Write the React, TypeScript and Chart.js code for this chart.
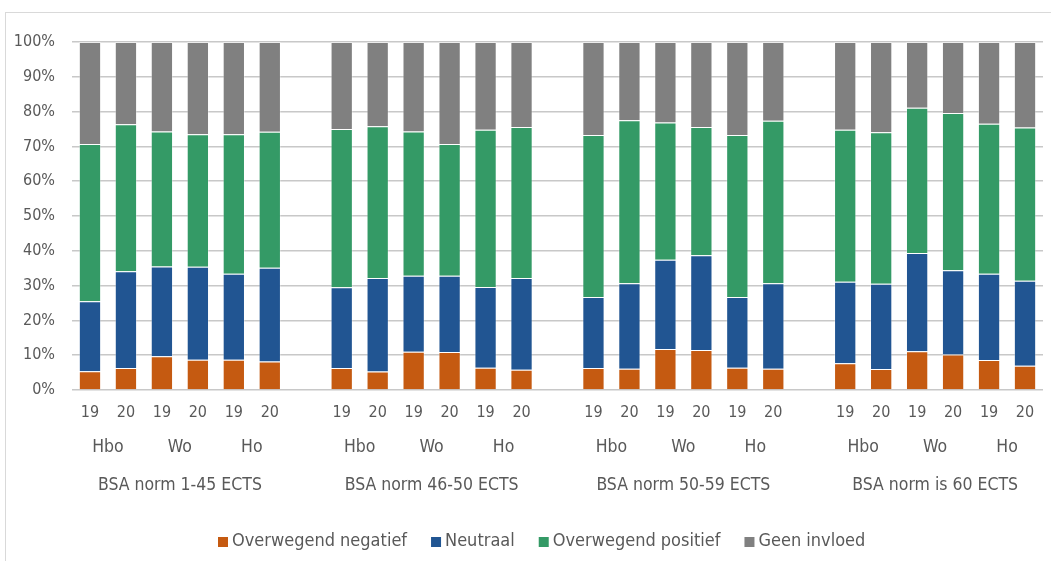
import React, { useEffect, useRef } from "react";
import { Chart, registerables } from "chart.js";

Chart.register(...registerables);

const groups = ["BSA norm 1-45 ECTS", "BSA norm 46-50 ECTS", "BSA norm 50-59 ECTS", "BSA norm is 60 ECTS"];
const sectors = ["Hbo", "Wo", "Ho"];
const years = ["19", "20"];

const negatief = [5.4, 6.3, 9.7, 8.7, 8.7, 8.2, 6.3, 5.3, 11.0, 10.9, 6.4, 5.8, 6.3, 6.1, 11.8, 11.5, 6.4, 6.1, 7.7, 6.0, 11.1, 10.2, 8.6, 7.0];
const neutraal = [20.1, 27.8, 25.8, 26.7, 24.7, 26.9, 23.2, 26.9, 21.8, 21.9, 23.2, 26.4, 20.4, 24.6, 25.6, 27.2, 20.3, 24.6, 23.4, 24.5, 28.3, 24.2, 24.8, 24.4];
const positief = [45.2, 42.3, 38.8, 38.1, 40.1, 39.1, 45.5, 43.6, 41.5, 37.9, 45.2, 43.4, 46.6, 46.8, 39.5, 36.9, 46.6, 46.7, 43.7, 43.6, 41.7, 45.2, 43.1, 44.0];
const geen = [29.3, 23.6, 25.7, 26.5, 26.5, 25.8, 25.0, 24.2, 25.7, 29.3, 25.2, 24.4, 26.7, 22.5, 23.1, 24.4, 26.7, 22.6, 25.2, 25.9, 18.9, 20.4, 23.5, 24.6];

const seriesNames = ["Overwegend negatief", "Neutraal", "Overwegend positief", "Geen invloed"];
const seriesColors = ["#C55A11", "#215592", "#349A66", "#808080"];

const FONT = "'DejaVu Sans Condensed', 'DejaVu Sans', sans-serif";
const TEXT = "#595959";

// Build category list with a blank slot between groups
const perGroup = sectors.length * years.length;
function withGaps(values: (number | null)[]): (number | null)[] {
  const out: (number | null)[] = [];
  groups.forEach((_, g) => {
    if (g > 0) out.push(null);
    for (let k = 0; k < perGroup; k++) out.push(values[g * perGroup + k]);
  });
  return out;
}
const labels: string[] = [];
groups.forEach((_, g) => {
  if (g > 0) labels.push("");
  sectors.forEach(() => years.forEach((y) => labels.push(y)));
});

const multiLevelPlugin = {
  id: "multiLevel",
  afterDraw(chart: any) {
    const x = chart.scales.x;
    const ctx = chart.ctx;
    ctx.save();
    ctx.fillStyle = TEXT;
    ctx.font = `17.5px ${FONT}`;
    ctx.textAlign = "center";
    ctx.textBaseline = "middle";
    const base = chart.chartArea.bottom;
    groups.forEach((gName, g) => {
      const start = g * (perGroup + 1);
      sectors.forEach((s, i) => {
        const a = x.getPixelForValue(start + i * 2);
        const b = x.getPixelForValue(start + i * 2 + 1);
        ctx.fillText(s, (a + b) / 2, base + 57);
      });
      const a = x.getPixelForValue(start);
      const b = x.getPixelForValue(start + perGroup - 1);
      ctx.fillText(gName, (a + b) / 2, base + 95);
    });

    // legend
    ctx.font = `18px ${FONT}`;
    ctx.textAlign = "left";
    const ly = base + 151;
    let lx = 218;
    chart.data.datasets.forEach((ds: any) => {
      ctx.fillStyle = ds.backgroundColor;
      ctx.fillRect(lx, ly - 4, 10, 10);
      ctx.fillStyle = TEXT;
      const tx = lx + 14;
      ctx.fillText(ds.label, tx, ly);
      lx = tx + ctx.measureText(ds.label).width + 24;
    });
    ctx.restore();
  },
};

export default function App() {
  const ref = useRef<HTMLCanvasElement>(null);
  useEffect(() => {
    if (!ref.current) return;
    const data = [negatief, neutraal, positief, geen];
    const chart = new Chart(ref.current, {
      type: "bar",
      data: {
        labels,
        datasets: data.map((d, i) => ({
          label: seriesNames[i],
          data: withGaps(d),
          backgroundColor: seriesColors[i],
          borderColor: "rgba(255,255,255,0.3)",
          borderWidth: 1,
          barPercentage: 0.62,
          categoryPercentage: 1,
        })),
      },
      options: {
        animation: false,
        responsive: false,
        maintainAspectRatio: false,
        layout: { padding: { top: 42, right: 8, bottom: 0, left: 0 } },
        plugins: {
          legend: { display: false },
          tooltip: { enabled: false },
        },
        scales: {
          x: {
            stacked: true,
            grid: { display: false },
            border: { display: false },
            ticks: {
              color: TEXT,
              font: { family: FONT, size: 16 },
              padding: 5,
              maxRotation: 0,
              autoSkip: false,
            },
            afterFit: (scale: any) => {
              scale.height = 171;
            },
          },
          y: {
            stacked: true,
            min: 0,
            max: 100,
            grid: { color: "#c8c8c8", lineWidth: 1.5, drawTicks: false },
            border: { display: false },
            ticks: {
              stepSize: 10,
              color: TEXT,
              padding: 17,
              font: { family: FONT, size: 16 },
              callback: (v: any) => `${v}%`,
            },
            afterFit: (scale: any) => {
              scale.width = 72;
            },
          },
        },
      },
      plugins: [multiLevelPlugin],
    });
    return () => chart.destroy();
  }, []);

  return (
    <div style={{ position: "absolute", left: 0, top: 0, width: 1051, height: 561, background: "#fff", overflow: "hidden" }}>
      <div
        style={{
          position: "absolute",
          left: 5,
          top: 12,
          width: 1100,
          height: 600,
          border: "1.5px solid #d9d9d9",
        }}
      />
      <canvas ref={ref} width={1051} height={561} style={{ position: "absolute", left: 0, top: 0, width: 1051, height: 561 }} />
    </div>
  );
}
